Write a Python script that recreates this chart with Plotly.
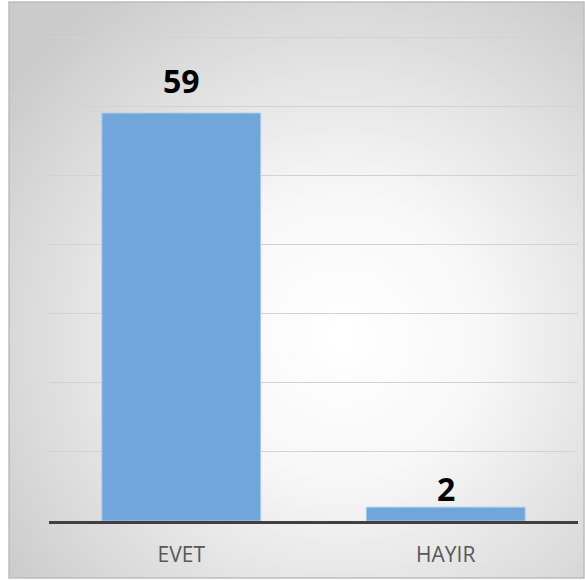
import base64
import plotly.graph_objects as go

categories = ["EVET", "HAYIR"]
values = [59, 2]
label_shift = [33, 19]

W, H = 585, 580
L, R, T, B = 49, 7, 37, 59
pw, ph = W - L - R, H - T - B

svg = ("<svg xmlns='http://www.w3.org/2000/svg' width='575' height='575' viewBox='0 0 575 575' preserveAspectRatio='none'>"
       "<defs><radialGradient id='g' cx='58%' cy='58%' r='72%'>"
       "<stop offset='0' stop-color='#ffffff'/><stop offset='0.35' stop-color='#f7f7f7'/>"
       "<stop offset='1' stop-color='#cbcbcb'/></radialGradient></defs>"
       "<rect width='575' height='575' fill='url(#g)'/></svg>")
src = "data:image/svg+xml;base64," + base64.b64encode(svg.encode()).decode()

bx0, by0, bx1, by1 = 9, 3, 584, 578
def px(x): return (x - L) / pw
def py(y): return (H - B - y) / ph

fig = go.Figure(go.Bar(
    x=categories, y=values, width=0.6,
    marker=dict(color="#70a6da", line=dict(color="#a9c9ea", width=1)),
    hoverinfo="skip",
))

for c, v, s in zip(categories, values, label_shift):
    fig.add_annotation(x=c, y=v, text=f"<b>{v}</b>", showarrow=False, yshift=s,
                       font=dict(size=32, color="#000000", family="Open Sans"))

fig.add_layout_image(dict(source=src, xref="paper", yref="paper",
                          x=px(bx0), y=py(by0), sizex=px(bx1) - px(bx0), sizey=py(by0) - py(by1),
                          xanchor="left", yanchor="top", sizing="stretch", layer="below"))
fig.add_shape(type="rect", xref="paper", yref="paper", x0=px(bx0), x1=px(bx1), y0=py(by1), y1=py(by0),
              line=dict(color="#bdbdbd", width=1.5), layer="above")

fig.update_layout(
    width=W, height=H, margin=dict(l=L, r=R, t=T - 1, b=B),
    paper_bgcolor="white", plot_bgcolor="rgba(0,0,0,0)",
    showlegend=False, bargap=0.4,
    font=dict(family="Open Sans", color="#595959"),
    xaxis=dict(showline=True, linecolor="#404040", linewidth=3, ticks="",
               tickfont=dict(size=21, color="#595959"), ticklabelstandoff=13, fixedrange=True),
    yaxis=dict(range=[0, 70.15], dtick=10, showgrid=True, gridcolor="#d2d2d2", gridwidth=1,
               showticklabels=False, zeroline=False, fixedrange=True),
)

fig.write_html("out.html", config={"displayModeBar": False},
               post_script="document.body.style.margin='0';")
